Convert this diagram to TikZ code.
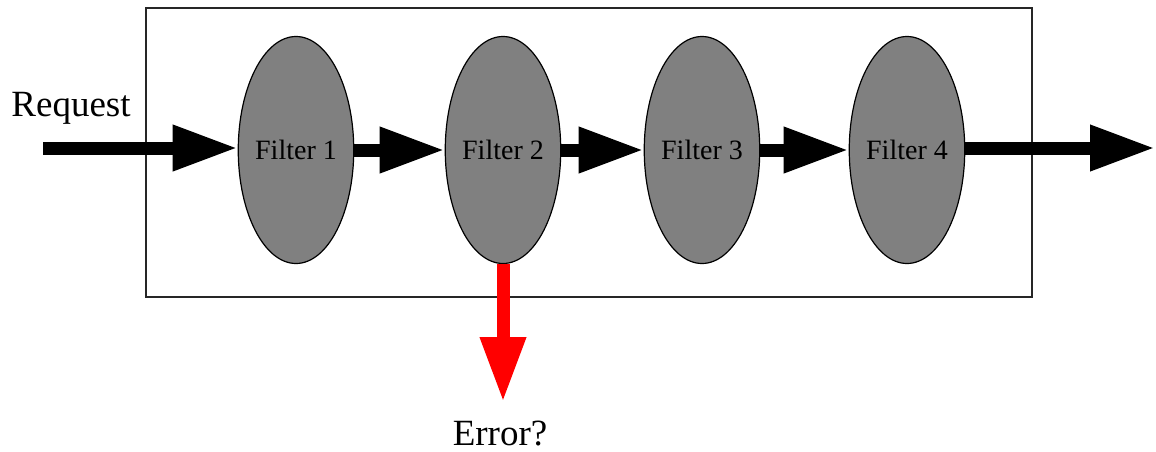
\documentclass[tikz,border=0pt]{standalone}
\usepackage{fontspec}
\setmainfont{Liberation Serif}
\usetikzlibrary{shapes.geometric,arrows.meta}
\definecolor{fgray}{RGB}{128,128,128}
\definecolor{errred}{RGB}{255,0,0}
\tikzset{
  filt/.style={ellipse, draw=black, line width=1.2pt, fill=fgray, minimum width=112pt, minimum height=227pt, inner sep=0pt, font=\fontsize{28}{30}\selectfont},
  flow/.style={line width=13pt, -{Triangle[length=65pt 0 0, width=43pt 0 0]}},
  lbl/.style={font=\fontsize{37}{40}\selectfont, inner sep=0pt, anchor=base}
}
\begin{document}
\begin{tikzpicture}[x=1pt,y=-1pt]
\useasboundingbox (0,0) rectangle (1156,451);
\draw[line width=1.3pt, black!85] (146,8) rectangle (1032,297);
\node[filt] (f1) at (296,150) {Filter 1};
\node[filt] (f2) at (503,150) {Filter 2};
\node[filt] (f3) at (702,150) {Filter 3};
\node[filt] (f4) at (907,150) {Filter 4};
\node[lbl] (req) at (71,116) {Request};
\node[lbl] (err) at (500,445) {Error?};
\coordinate (in) at (43,148);
\coordinate (out) at (1155,148);
\coordinate (errend) at (503,402);
\draw[flow] (in) -- (f1.west |- in);
\draw[flow] (f1.east) -- (f2.west);
\draw[flow] (f2.east) -- (f3.west);
\draw[flow] (f3.east) -- (f4.west);
\draw[flow] (f4.east |- out) -- (out);
\draw[flow, errred] (f2.south) -- (errend);
\end{tikzpicture}
\end{document}
